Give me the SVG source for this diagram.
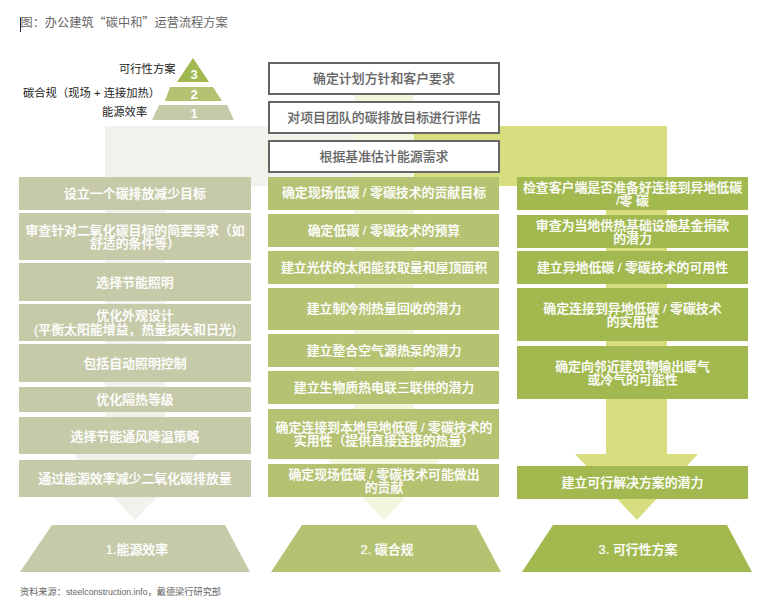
<svg xmlns="http://www.w3.org/2000/svg" width="764" height="611" viewBox="0 0 764 611">
<style>
text{font-family:"Liberation Sans","Noto Sans CJK SC",sans-serif;font-size:12.9px;text-anchor:middle;fill:#fff;font-weight:500;stroke:#fff;stroke-width:.2px}
.d{fill:#666;stroke:#666;stroke-width:.1px}
.k{fill:#1a1a1a;stroke:none;font-size:11.3px;font-weight:400;text-anchor:start}
.c1{fill:#c6caa9}.c2{fill:#b4c271}.c3{fill:#a1b94e}
.top{fill:#fff;stroke:#666;stroke-width:2}
.n{font-family:"Liberation Sans",sans-serif;font-size:13px;font-weight:700;stroke:none}
.s{text-anchor:start;font-weight:400;stroke:none}
</style>
<rect width="764" height="611" fill="#fff"/>
<g id="connectors">
<path id="arrow1" fill="#f0f2ec" d="M105 126H354V186H165V454H197L135 520L73 454H105Z"/>
<path id="arrow2" fill="#f3f5dd" d="M354 95H414V454H445L384 520L323 454H354Z"/>
<path id="arrow3" fill="#d8dd80" d="M414 126H667V454H698L637 520L575 454H606V186H414Z"/>
</g>
<g id="title">
<rect x="20" y="17" width="1" height="15" fill="#1f2a44"/>
<text x="20.500" y="27" class="d s" style="font-family:'Noto Sans CJK SC',sans-serif;font-size:12.200px">图：办公建筑“碳中和”运营流程方案</text>
</g>
<g id="pyramid">
<path class="c3" d="M193 58L209 82H177Z"/><text class="n" x="194" y="79">3</text>
<path class="c2" d="M170 87H213L222 101H165Z"/><text class="n" x="194" y="99">2</text>
<path class="c1" d="M159 105H227L234 120H152Z"/><text class="n" x="194" y="118">1</text>
<text class="k" x="119" y="73">可行性方案</text>
<text class="k" x="23" y="97">碳合规（现场 + 连接加热）</text>
<text class="k" x="102" y="116">能源效率</text>
</g>
<g id="top-1"><rect class="top" x="269" y="63" width="230" height="31"/><text class="d" x="384" y="83">确定计划方针和客户要求</text></g>
<g id="top-2"><rect class="top" x="269" y="102" width="230" height="31"/><text class="d" x="384" y="122">对项目团队的碳排放目标进行评估</text></g>
<g id="top-3"><rect class="top" x="269" y="141" width="230" height="31"/><text class="d" x="384" y="161">根据基准估计能源需求</text></g>

<g id="a1"><rect class="c1" x="19" y="177" width="232" height="33"/><text x="135" y="198">设立一个碳排放减少目标</text></g>
<g id="a2"><rect class="c1" x="19" y="213" width="232" height="47"/><text x="135" y="235">审查针对二氧化碳目标的简要要求（如<tspan x="135" dy="13">舒适的条件等）</tspan></text></g>
<g id="a3"><rect class="c1" x="19" y="263" width="232" height="38"/><text x="135" y="287">选择节能照明</text></g>
<g id="a4"><rect class="c1" x="19" y="304" width="232" height="37"/><text x="135" y="320">优化外观设计<tspan x="135" dy="14">(平衡太阳能增益，热量损失和日光)</tspan></text></g>
<g id="a5"><rect class="c1" x="19" y="344" width="232" height="38"/><text x="135" y="368">包括自动照明控制</text></g>
<g id="a6"><rect class="c1" x="19" y="387" width="232" height="25"/><text x="135" y="404">优化隔热等级</text></g>
<g id="a7"><rect class="c1" x="19" y="417" width="232" height="37"/><text x="135" y="441">选择节能通风降温策略</text></g>
<g id="a8"><rect class="c1" x="19" y="460" width="232" height="37"/><text x="135" y="483">通过能源效率减少二氧化碳排放量</text></g>

<g id="b1"><rect class="c2" x="268" y="177" width="231" height="33"/><text x="384" y="197">确定现场低碳 / 零碳技术的贡献目标</text></g>
<g id="b2"><rect class="c2" x="268" y="214" width="231" height="33"/><text x="384" y="235">确定低碳 / 零碳技术的预算</text></g>
<g id="b3"><rect class="c2" x="268" y="251" width="231" height="33"/><text x="384" y="272">建立光伏的太阳能获取量和屋顶面积</text></g>
<g id="b4"><rect class="c2" x="268" y="288" width="231" height="42"/><text x="384" y="313">建立制冷剂热量回收的潜力</text></g>
<g id="b5"><rect class="c2" x="268" y="334" width="231" height="33"/><text x="384" y="355">建立整合空气源热泵的潜力</text></g>
<g id="b6"><rect class="c2" x="268" y="371" width="231" height="33"/><text x="384" y="392">建立生物质热电联三联供的潜力</text></g>
<g id="b7"><rect class="c2" x="268" y="409" width="231" height="50"/><text x="384" y="432">确定连接到本地异地低碳 / 零碳技术的<tspan x="384" dy="13">实用性（提供直接连接的热量）</tspan></text></g>
<g id="b8"><rect class="c2" x="268" y="464" width="231" height="33"/><text x="384" y="479">确定现场低碳 / 零碳技术可能做出<tspan x="384" dy="13">的贡献</tspan></text></g>

<g id="c1"><rect class="c3" x="517" y="177" width="231" height="33"/><text x="632.500" y="192">检查客户端是否准备好连接到异地低碳<tspan x="632.500" dy="13">/零 碳</tspan></text></g>
<g id="c2"><rect class="c3" x="517" y="215" width="231" height="33"/><text x="632.500" y="230">审查为当地供热基础设施基金捐款<tspan x="632.500" dy="13">的潜力</tspan></text></g>
<g id="c3"><rect class="c3" x="517" y="251" width="231" height="33"/><text x="632.500" y="272">建立异地低碳 / 零碳技术的可用性</text></g>
<g id="c4"><rect class="c3" x="517" y="288" width="231" height="53"/><text x="632.500" y="313">确定连接到异地低碳 / 零碳技术<tspan x="632.500" dy="13">的实用性</tspan></text></g>
<g id="c5"><rect class="c3" x="517" y="346" width="231" height="53"/><text x="632.500" y="371">确定向邻近建筑物输出暖气<tspan x="632.500" dy="13">或冷气的可能性</tspan></text></g>
<g id="c6"><rect class="c3" x="517" y="466" width="231" height="33"/><text x="632.500" y="487">建立可行解决方案的潜力</text></g>

<g id="t1"><path class="c1" d="M52 525H225L250 572H20Z"/><text x="137" y="553.500">1.能源效率</text></g>
<g id="t2"><path class="c2" d="M302 525H476L501 572H271Z"/><text x="387" y="553.500">2. 碳合规</text></g>
<g id="t3"><path class="c3" d="M553 525H727L752 572H522Z"/><text x="638" y="553.500">3. 可行性方案</text></g>
<text class="d s" x="20" y="595" style="font-size:9.200px">资料来源：<tspan style="font-size:8.700px">steelconstruction.info</tspan>，戴德梁行研究部</text>
</svg>
